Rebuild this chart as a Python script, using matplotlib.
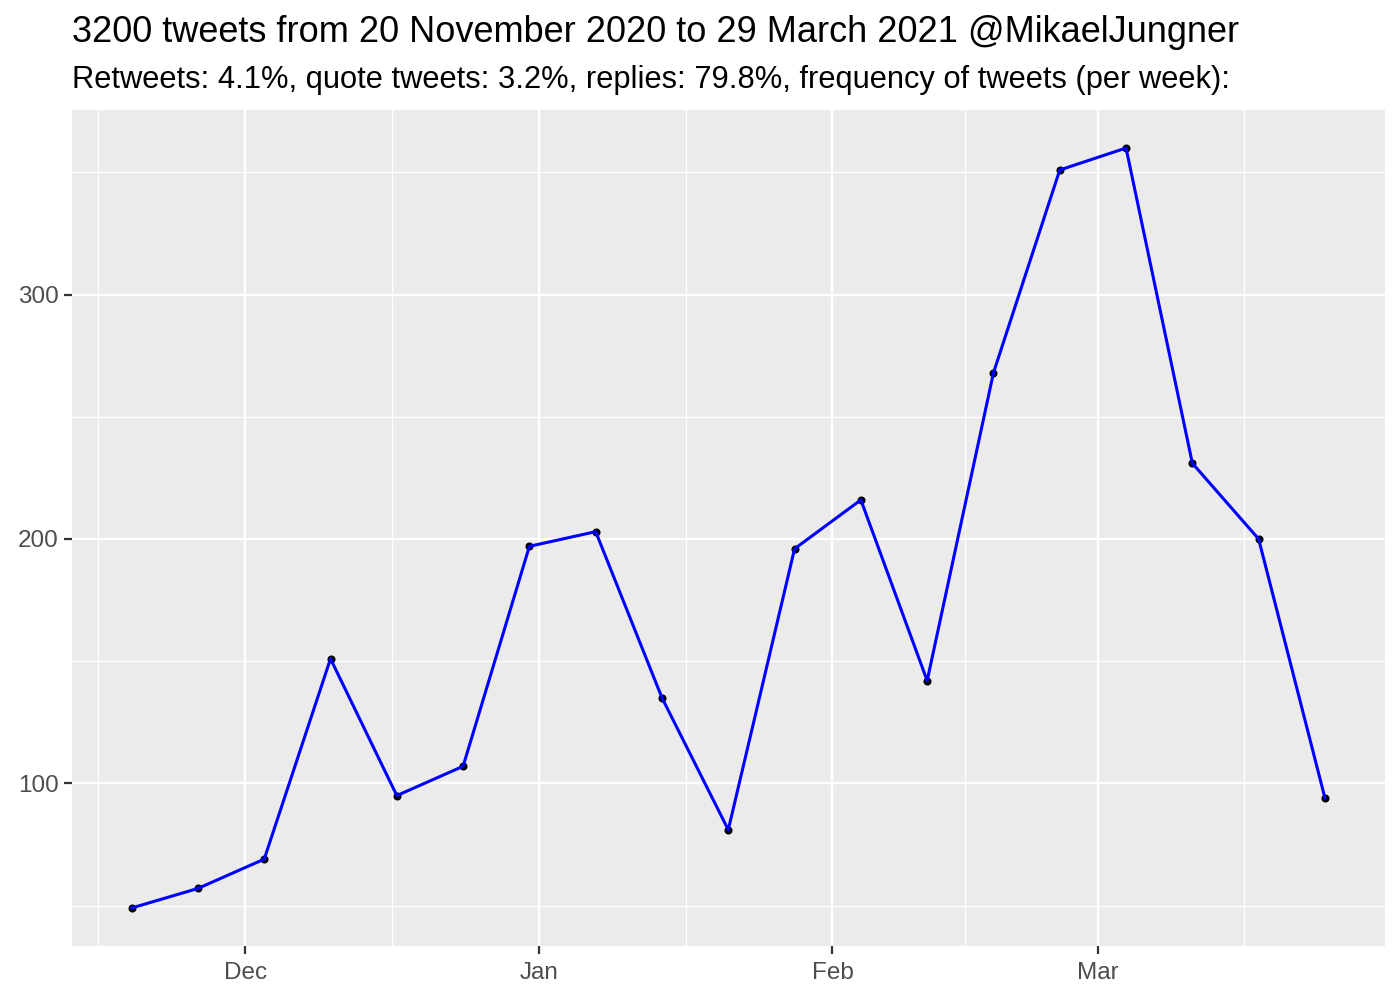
import matplotlib
matplotlib.use("Agg")
import matplotlib.pyplot as plt
import matplotlib.dates as mdates
import numpy as np
import datetime as dt

plt.rcParams['font.family'] = ['Liberation Sans', 'DejaVu Sans']

start_date = dt.date(2020, 11, 19)
week_counts = [49, 57, 69, 151, 95, 107, 197, 203, 135, 81, 196, 216, 142,
               268, 351, 360, 231, 200, 94]
dates = [start_date + dt.timedelta(days=7 * i) for i in range(len(week_counts))]
x_major = [dt.datetime(2020, 12, 1), dt.datetime(2021, 1, 1), dt.datetime(2021, 2, 1), dt.datetime(2021, 3, 1)]
x_labels = ["Dec", "Jan", "Feb", "Mar"]
x_minor = [dt.datetime(2020, 11, 15, 12), dt.datetime(2020, 12, 16, 12), dt.datetime(2021, 1, 16, 12),
           dt.datetime(2021, 2, 15), dt.datetime(2021, 3, 16, 12)]
y_major = [100, 200, 300]
y_minor = [50, 150, 250, 350]

title = "3200 tweets from 20 November 2020 to 29 March 2021 @MikaelJungner"
subtitle = "Retweets: 4.1%, quote tweets: 3.2%, replies: 79.8%, frequency of tweets (per week):"

fig = plt.figure(figsize=(14, 10), dpi=100)
ax = fig.add_axes([0.0514, 0.054, 0.989 - 0.0514, 0.89 - 0.054])
ax.set_facecolor("#EBEBEB")

xn = mdates.date2num(dates)
span = xn[-1] - xn[0]
ax.set_xlim(xn[0] - 0.05 * span, xn[-1] + 0.05 * span)
yr = max(week_counts) - min(week_counts)
ax.set_ylim(min(week_counts) - 0.05 * yr, max(week_counts) + 0.05 * yr)

for v in mdates.date2num(x_minor):
    ax.axvline(v, color="white", lw=0.9, zorder=0.5)
for v in y_minor:
    ax.axhline(v, color="white", lw=0.9, zorder=0.5)
for v in mdates.date2num(x_major):
    ax.axvline(v, color="white", lw=1.7, zorder=0.6)
for v in y_major:
    ax.axhline(v, color="white", lw=1.7, zorder=0.6)

ax.plot(xn, week_counts, "o", color="black", markersize=4.8, zorder=2)
ax.plot(xn, week_counts, "-", color="#0000FF", lw=2.2, zorder=3)

ax.set_xticks(mdates.date2num(x_major))
ax.set_xticklabels(x_labels)
ax.set_yticks(y_major)
ax.tick_params(axis="both", colors="#333333", length=5.5, width=1.6,
               labelsize=17.5, labelcolor="#4D4D4D")
ax.tick_params(axis="x", pad=6)
ax.tick_params(axis="y", pad=4)
for s in ax.spines.values():
    s.set_visible(False)

fig.text(0.0514, 0.958, title, fontsize=26, ha="left", va="baseline", color="black")
fig.text(0.0514, 0.912, subtitle, fontsize=22.2, ha="left", va="baseline", color="black")

fig.savefig("out.png", dpi=100)
